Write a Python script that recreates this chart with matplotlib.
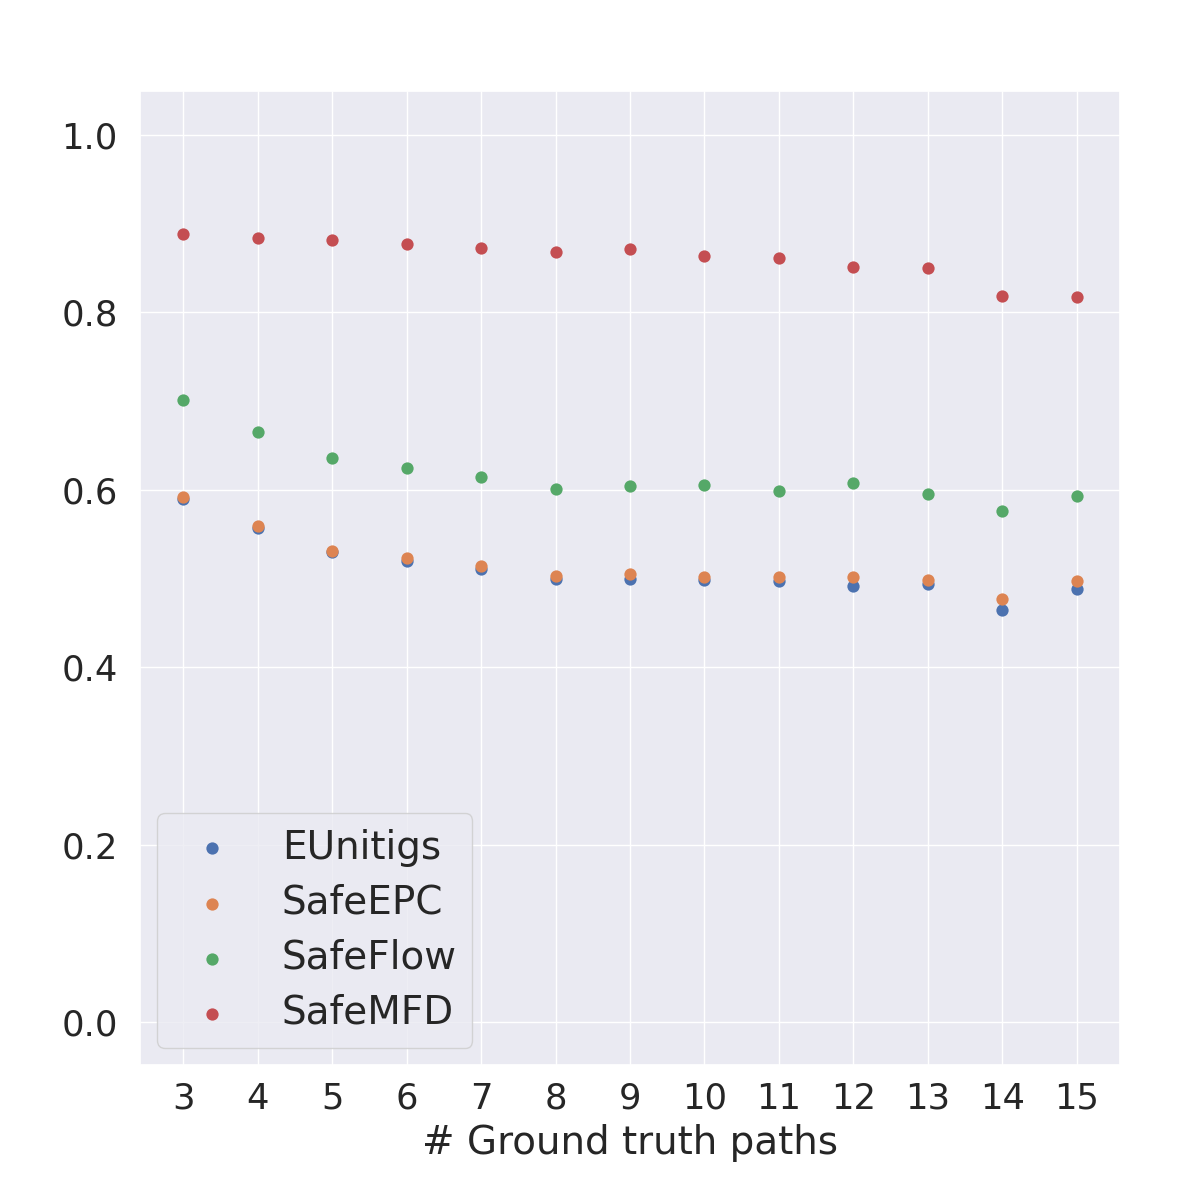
import numpy as np
import matplotlib
matplotlib.use("Agg")
import matplotlib.pyplot as plt
import seaborn as sns

paths = [3, 4, 5, 6, 7, 8, 9, 10, 11, 12, 13, 14, 15]
eunitigs = [0.590, 0.5565, 0.5296, 0.5195, 0.5111, 0.4995, 0.4999, 0.4985, 0.4974, 0.4910, 0.4940, 0.4640, 0.4883]
safe_epc = [0.5913, 0.5587, 0.5314, 0.5231, 0.5145, 0.5032, 0.5047, 0.5022, 0.5015, 0.5015, 0.4985, 0.4771, 0.4973]
safe_flow = [0.701, 0.665, 0.6357, 0.6244, 0.6143, 0.6011, 0.6045, 0.6056, 0.5981, 0.6075, 0.5955, 0.5756, 0.5932]
safe_mfd = [0.8878, 0.8833, 0.8811, 0.8765, 0.8720, 0.8675, 0.8709, 0.8630, 0.8608, 0.8506, 0.8495, 0.8180, 0.8169]

series = [("EUnitigs", eunitigs), ("SafeEPC", safe_epc), ("SafeFlow", safe_flow), ("SafeMFD", safe_mfd)]

sns.set_theme(style="darkgrid")
colors = sns.color_palette("deep")

fig = plt.figure(figsize=(11.96, 11.90), dpi=100)
ax = fig.add_axes([0.117, 0.105, 0.8195, 0.8185])

for i, (name, vals) in enumerate(series):
    ax.scatter(paths, vals, s=78, color=colors[i], linewidth=0, label=name, zorder=3)

ax.set_xlim(2.42, 15.58)
ax.set_ylim(-0.048, 1.049)
ax.set_xticks(paths)
ax.set_yticks([0.0, 0.2, 0.4, 0.6, 0.8, 1.0])
ax.tick_params(axis="x", labelsize=25.5, pad=6)
ax.tick_params(axis="y", labelsize=25.5, pad=10)
ax.set_xlabel("# Ground truth paths", fontsize=28, labelpad=6)
ax.legend(loc="lower left", fontsize=28, markerscale=1.0, borderaxespad=0.45,
          labelspacing=0.44)

fig.savefig("out.png", dpi=100)
